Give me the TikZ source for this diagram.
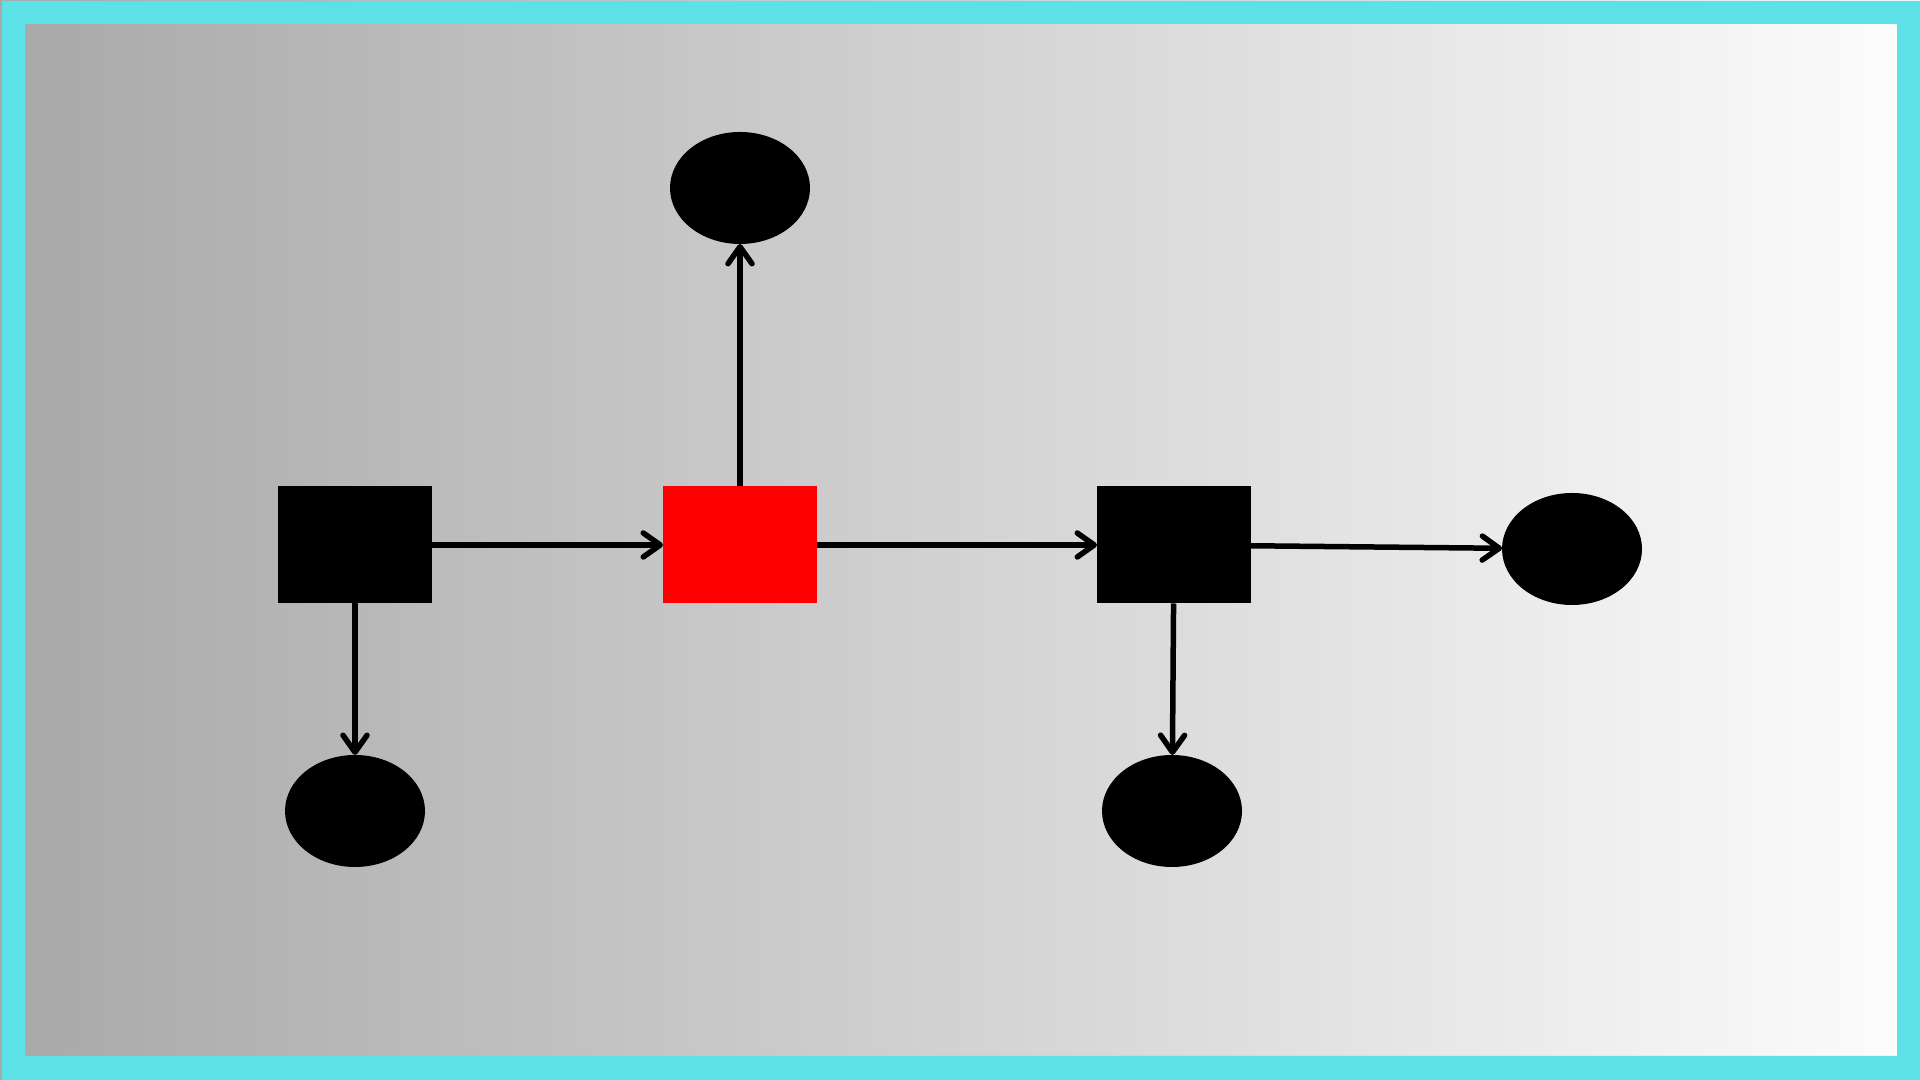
\documentclass[tikz,border=0pt]{standalone}
\usepackage{tikz}
\usetikzlibrary{positioning}
\usetikzlibrary{arrows.meta}
\usetikzlibrary{shapes}
\definecolor{framecyan}{RGB}{92,225,230}
\definecolor{bgdark}{RGB}{168,168,168}
\definecolor{bgpale}{RGB}{253,253,253}
\begin{document}
\begin{tikzpicture} [
    node distance=3.85cm and 3.85cm,   % centre to centre, on grid
    ]
% -------------------------------------------------
\tikzset{
  base/.style={on grid, inner sep=0pt, outer sep=0pt},
  block/.style={base, rectangle, fill=black, minimum width=1.54cm, minimum height=1.17cm},
  hub/.style={block, fill=red},
  leaf/.style={base, ellipse, fill=black, minimum width=1.40cm, minimum height=1.12cm},
  link/.style={draw, line width=0.055cm, -{Straight Barb[length=0.17cm, width=0.24cm, round]}},
}
    % background and frame
    \useasboundingbox (0,0) rectangle (19.2,10.8);
    \shade [left color=bgdark, right color=bgpale] (0,0) rectangle (19.2,10.8);
    \fill [framecyan, even odd rule] (0.02,0) rectangle (19.2,10.79)
                                     (0.25,0.24) rectangle (18.97,10.56);

    \node [block] (left) at (3.55,5.35) {};
    \node [hub, right=of left] (centre) {};
    \node [block, right=4.34cm of centre] (right) {};

    \node [leaf, above=3.57cm of centre] (top) {};
    \node [leaf, below=2.66cm of left] (leftleaf) {};
    \node [leaf, below=2.66cm of right, xshift=-0.02cm] (rightleaf) {};
    \node [leaf, right=3.98cm of right, yshift=-0.04cm] (far) {};

    \path [link] (left) -- (centre);
    \path [link] (centre) -- (right);
    \path [link] (centre) -- (top);
    \path [link] (left) -- (leftleaf);
    \path [link] (right) -- (rightleaf);
    \path [link] (right) -- (far);

\end{tikzpicture}
\end{document}
